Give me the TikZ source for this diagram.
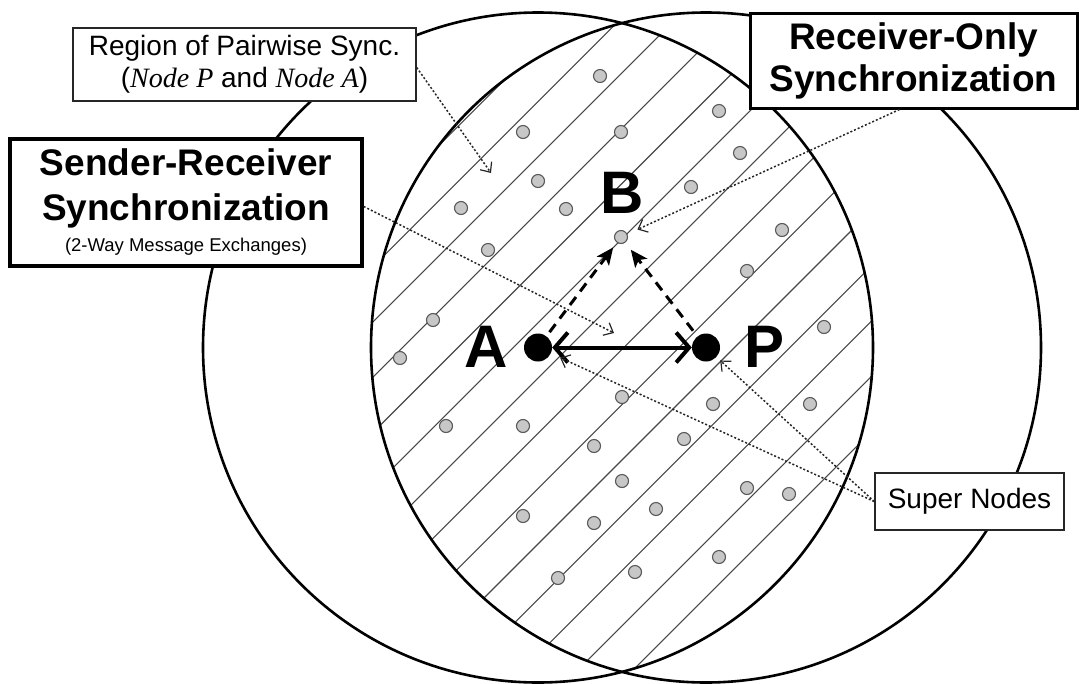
\documentclass[tikz,border=0pt]{standalone}
\usepackage{fontspec}
\setmainfont{Liberation Sans}
\newfontfamily\tms{Liberation Serif}
\usetikzlibrary{arrows.meta}
\begin{document}
\begin{tikzpicture}[x=1pt,y=-1pt,
  ring/.style={line width=2.6pt, draw=black},
  hatch/.style={line width=1.1pt, draw=black!72},
  sn/.style={circle, fill=black!22, draw=black!65, line width=1.1pt, minimum size=13pt, inner sep=0pt},
  bignode/.style={circle, fill=black, minimum size=28pt, inner sep=0pt},
  letter/.style={font=\fontsize{60}{60}\selectfont\bfseries, inner sep=0pt, anchor=base},
  thinbox/.style={draw=black!85, line width=1.5pt, fill=white, inner sep=0pt, align=center},
  thickbox/.style={draw=black, line width=3.5pt, fill=white, inner sep=0pt, align=center},
  callout/.style={line width=1.5pt, dash pattern=on 2pt off 2pt, draw=black!85,
    -{Straight Barb[length=8pt,width=14pt,line width=1.2pt]}},
  link/.style={line width=4pt, {Straight Barb[length=13pt,width=30pt]}-{Straight Barb[length=13pt,width=30pt]}},
  dlink/.style={line width=3pt, dash pattern=on 10pt off 7pt, -{Stealth[length=17pt,width=15pt,inset=4pt]}}
]
\useasboundingbox (0,0) rectangle (1079,683);
\coordinate (c1) at (538,347.5);
\coordinate (c2) at (706,347.5);
% hatched lens
\begin{scope}
  \clip (c1) circle[radius=335pt];
  \clip (c2) circle[radius=335pt];
  \foreach \k in {-10,...,6} {
    \pgfmathsetmacro\cc{1082+55.3*\k}
    \draw[hatch] (\cc,0) -- (\cc-700,700);
  }
\end{scope}
% circles
\draw[ring] (c1) circle[radius=335pt];
\draw[ring] (c2) circle[radius=335pt];
% super nodes (gray dots)
\foreach \x/\y [count=\i] in {600/76,523/132,621/132,719/111,740/153,538/181,691/187,461/208,566/209,488/250,
  782/230,747/271,433/320,824/327,400/358,622/397,713/404,810/404,446/426,523/426,594/446,684/439,
  622/481,747/488,789/494,656/509,523/516,594/523,719/557,558/578,635/572}
  \node[sn] (d\i) at (\x,\y) {};
\node[sn] (B) at (621,237) {};
% main nodes
\node[bignode] (A) at (c1) {};
\node[bignode] (P) at (c2) {};
\node[letter] (lA) at (486,367) {A};
\node[letter] (lP) at (765,367) {P};
\node[letter] (lB) at (622.5,213) {B};
% boxes
\node[thinbox, minimum width=343pt, minimum height=73pt, font=\fontsize{28}{32}\selectfont] (reg) at (244.5,64.5)
  {Region of Pairwise Sync.\\({\tms\itshape Node P} and {\tms\itshape Node A})};
\node[thickbox, minimum width=352pt, minimum height=127pt, font=\fontsize{37}{45}\selectfont\bfseries] (snd) at (186,202.5)
  {Sender-Receiver\\Synchronization\\[-14pt]{\fontsize{18.5}{22}\selectfont\mdseries (2-Way Message Exchanges)}};
\node[thickbox, line width=3pt, minimum width=327pt, minimum height=95pt, font=\fontsize{37}{42}\selectfont\bfseries] (rec) at (913.5,60.5)
  {Receiver-Only\\Synchronization};
\node[thinbox, minimum width=189pt, minimum height=57pt, font=\fontsize{28}{32}\selectfont] (sup) at (969.5,501.5)
  {Super Nodes};
% links
\draw[link] (A) -- (P);
\draw[dlink, shorten <=5pt, shorten >=6pt] (A) -- (B);
\draw[dlink, shorten <=7pt, shorten >=9pt] (P) -- (B);
% callouts
\coordinate (regtip) at (491,173);
\coordinate (sndtip) at (614,333);
\draw[callout] ([yshift=-3pt]reg.east) -- (regtip);
\draw[callout] ([yshift=-4pt]snd.east) -- (sndtip);
\draw[callout, shorten >=11pt] ([xshift=-14pt]rec.south) -- (B);
\draw[callout, shorten >=10pt] (sup.west) -- (A);
\draw[callout, shorten >=5pt] (sup.west) -- (P);
\end{tikzpicture}
\end{document}
